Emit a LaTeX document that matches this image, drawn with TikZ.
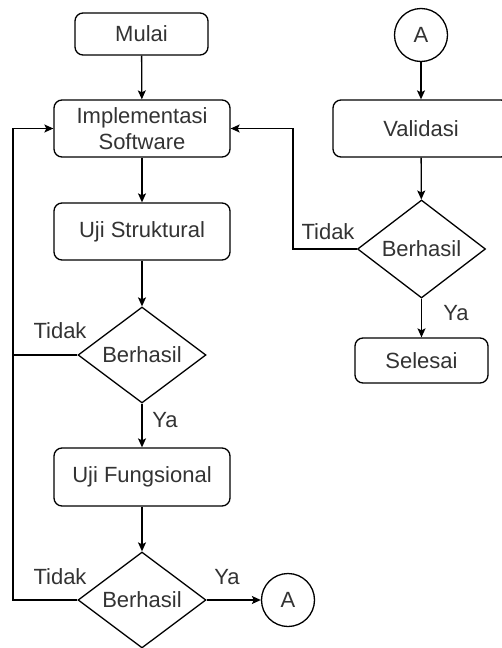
\documentclass[tikz,border=0pt]{standalone}
\usepackage{fontspec}
\setmainfont{Liberation Sans}
\usetikzlibrary{shapes.geometric,arrows.meta,calc}
\definecolor{txt}{HTML}{333333}
\begin{document}
\begin{tikzpicture}[x=1pt,y=-1pt,
  font=\fontsize{22}{26}\selectfont,
  every node/.style={text=txt},
  box/.style={draw=black,line width=1.3pt,rounded corners=8pt,inner sep=0pt,align=center,fill=white},
  dec/.style={draw=black,line width=1.3pt,diamond,inner sep=0pt,minimum width=128pt,minimum height=96pt,fill=white},
  conn/.style={draw=black,line width=1.3pt,circle,inner sep=0pt,minimum size=53pt},
  line/.style={draw=black,line width=1.3pt},
  arr/.style={line,-{Stealth[length=9pt,width=8pt,inset=2pt]}},
  lbl/.style={inner sep=0pt}
]
\useasboundingbox (0,0) rectangle (501,648);
\node[box,minimum width=133pt,minimum height=42pt] (mulai) at (141.5,34) {Mulai};
\node[box,minimum width=176pt,minimum height=57pt] (impl) at (142,128.5) {Implementasi\\Software};
\node[box,minimum width=176pt,minimum height=57pt] (struk) at (142,231.5) {Uji Struktural};
\node[dec] (d1) at (142,355) {Berhasil};
\node[box,minimum width=176pt,minimum height=58pt] (fung) at (142,477) {Uji Fungsional};
\node[dec] (d2) at (142,600) {Berhasil};
\node[conn] (ca1) at (288,600) {A};
\node[conn] (ca2) at (421,35) {A};
\node[box,minimum width=176pt,minimum height=57pt] (valid) at (421,128.5) {Validasi};
\node[dec,minimum height=98pt] (d3) at (421.5,249) {Berhasil};
\node[box,minimum width=133pt,minimum height=45pt] (sel) at (421.5,360.5) {Selesai};
\coordinate (lx) at (13,0);
\coordinate (rx) at (293,0);

\draw[arr] (mulai) -- (impl);
\draw[arr] (impl) -- (struk);
\draw[arr] (struk) -- (d1);
\draw[arr] (d1) -- (fung);
\draw[arr] (fung) -- (d2);
\draw[arr] (d2) -- (ca1);
\draw[arr] (ca2) -- (valid);
\draw[arr] (valid) -- (d3);
\draw[arr] (d3) -- (sel);
\draw[line] (d1.west) -- (d1.west -| lx);
\draw[arr] (d2.west) -- (d2.west -| lx) |- (impl.west);
\draw[arr] (d3.west) -- (d3.west -| rx) |- (impl.east);

\node[lbl] (t1) at (60,331) {Tidak};
\node[lbl] (t2) at (60,577) {Tidak};
\node[lbl] (t3) at (328,232) {Tidak};
\node[lbl] (y1) at (165,420) {Ya};
\node[lbl] (y2) at (227,577) {Ya};
\node[lbl] (y3) at (456,313) {Ya};
\end{tikzpicture}
\end{document}
